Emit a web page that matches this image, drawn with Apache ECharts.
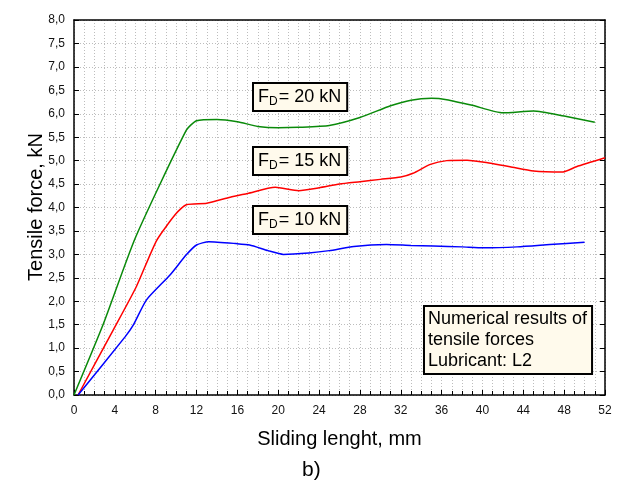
<!DOCTYPE html>
<html>
<head>
<meta charset="utf-8">
<script src="https://cdn.jsdelivr.net/npm/echarts@6/dist/echarts.min.js"></script>
<style>
html,body{margin:0;padding:0;background:#fff;}
#main{width:620px;height:485px;}
</style>
</head>
<body>
<div id="main"></div>
<script>
// Sliding length (mm) and tensile force (kN) per series
const x20 = [0, 2.9, 6, 11, 12, 14, 16, 18, 20, 22, 25, 28, 31, 33, 35, 36.5, 39, 42, 45, 48, 51];
const y20 = [0, 1.53, 3.35, 5.65, 5.85, 5.88, 5.83, 5.73, 5.70, 5.71, 5.75, 5.92, 6.17, 6.29, 6.33, 6.30, 6.18, 6.02, 6.06, 5.95, 5.82];

const x15 = [0.4, 3.85, 6.1, 8.1, 10, 11, 13, 15.3, 17, 19.7, 22, 24, 26, 28, 30, 32, 33.2, 34.9, 36.5, 38.5, 40, 42.7, 45, 47.9, 49.2, 52];
const y15 = [0, 1.39, 2.31, 3.3, 3.87, 4.06, 4.09, 4.22, 4.3, 4.43, 4.36, 4.42, 4.5, 4.55, 4.6, 4.65, 4.73, 4.92, 5.0, 5.01, 4.97, 4.87, 4.78, 4.76, 4.87, 5.06];

const x10 = [0.4, 5, 5.8, 7.1, 9.4, 11, 12, 13.2, 15.9, 17.2, 19, 20.5, 23, 25, 27.4, 30.6, 33, 35.2, 38, 40.1, 43.4, 46.6, 50];
const y10 = [0, 1.24, 1.49, 2.03, 2.56, 2.99, 3.2, 3.27, 3.23, 3.2, 3.08, 3.0, 3.03, 3.08, 3.17, 3.21, 3.19, 3.18, 3.16, 3.14, 3.16, 3.21, 3.26];

const seriesNames = ['F_D = 20 kN', 'F_D = 15 kN', 'F_D = 10 kN'];
const labelValues = ['20', '15', '10'];
const xTitle = 'Sliding lenght, mm';
const yTitle = 'Tensile force, kN';
const noteLines = ['Numerical results of', 'tensile forces', 'Lubricant: L2'];
const panelLabel = 'b)';

function zip(xs, ys) { return xs.map((x, i) => [x, ys[i]]); }

const FONT = '"Liberation Sans", Arial, sans-serif';
const chart = echarts.init(document.getElementById('main'), null, {renderer: 'canvas'});

const gridLine = {show: true, lineStyle: {color: '#bdbdbd', type: [1, 2], width: 1}};
const axisLine = {show: true, onZero: false, lineStyle: {color: '#000', width: 1.5}};

function fdBox(value, top) {
  return {
    type: 'text', left: 252, top: top, z: 100,
    style: {
      text: '{a|F}{s|D}{a|= ' + value + ' kN}',
      rich: {
        a: {fontSize: 18, fontFamily: FONT, fill: '#000', lineHeight: 21},
        s: {fontSize: 12, fontFamily: FONT, fill: '#000', lineHeight: 21, padding: [9, 1, 0, 0]}
      },
      backgroundColor: '#fffaec', borderColor: '#000', borderWidth: 2,
      padding: [3, 5, 2, 4]
    }
  };
}

chart.setOption({
  animation: false,
  backgroundColor: '#fff',
  grid: {left: 74, right: 15, top: 20, bottom: 90, containLabel: false},
  xAxis: [{
    type: 'value', min: 0, max: 52, interval: 4, position: 'bottom',
    name: xTitle, nameLocation: 'middle', nameGap: 34,
    nameTextStyle: {fontSize: 20, fontFamily: FONT, color: '#000'},
    axisLine: axisLine,
    axisTick: {show: true, inside: true, length: 5, lineStyle: {color: '#000'}},
    minorTick: {show: true, splitNumber: 4, length: 4, lineStyle: {color: '#000'}},
    axisLabel: {fontSize: 12, fontFamily: FONT, color: '#111', margin: 10},
    splitLine: gridLine,
    minorSplitLine: {show: true, lineStyle: {color: '#bdbdbd', type: [1, 2], width: 1}}
  }, {
    type: 'value', min: 0, max: 52, interval: 4, position: 'top',
    axisLine: axisLine, axisTick: {show: false}, axisLabel: {show: false}, splitLine: {show: false}
  }],
  yAxis: [{
    type: 'value', min: 0, max: 8, interval: 0.5, position: 'left',
    axisLine: axisLine,
    axisTick: {show: true, inside: true, length: 5, lineStyle: {color: '#000'}},
    axisLabel: {fontSize: 12, fontFamily: FONT, color: '#111', margin: 9,
      formatter: v => v.toFixed(1).replace('.', ',')},
    splitLine: gridLine
  }, {
    type: 'value', min: 0, max: 8, interval: 0.5, position: 'right',
    axisLine: axisLine,
    axisTick: {show: true, inside: true, length: 5, lineStyle: {color: '#000'}},
    axisLabel: {show: false}, splitLine: {show: false}
  }],
  series: [
    {name: seriesNames[0], type: 'line', data: zip(x20, y20), smooth: 0.2, showSymbol: false,
      lineStyle: {color: '#0a8a0a', width: 1.5}, z: 5},
    {name: seriesNames[1], type: 'line', data: zip(x15, y15), smooth: 0.2, showSymbol: false,
      lineStyle: {color: '#ff0000', width: 1.5}, z: 5},
    {name: seriesNames[2], type: 'line', data: zip(x10, y10), smooth: 0.2, showSymbol: false,
      lineStyle: {color: '#0000ff', width: 1.5}, z: 5}
  ],
  graphic: [
    {
      type: 'text', x: 36, y: 207, rotation: Math.PI / 2, z: 100,
      style: {text: yTitle, fontSize: 20, fontFamily: FONT, fill: '#000', align: 'center', verticalAlign: 'middle'}
    },
    fdBox(labelValues[0], 82),
    fdBox(labelValues[1], 146),
    fdBox(labelValues[2], 205),
    {
      type: 'text', left: 423, top: 305, z: 100,
      style: {
        text: noteLines.join('\n'),
        fontSize: 18, fontFamily: FONT, fill: '#000', lineHeight: 21,
        backgroundColor: '#fffaec', borderColor: '#000', borderWidth: 2,
        padding: [2, 4, 1, 3]
      }
    },
    {
      type: 'text', left: 302, top: 460, z: 100,
      style: {text: panelLabel, fontSize: 21, fontFamily: FONT, fill: '#000'}
    }
  ]
});
</script>
</body>
</html>
